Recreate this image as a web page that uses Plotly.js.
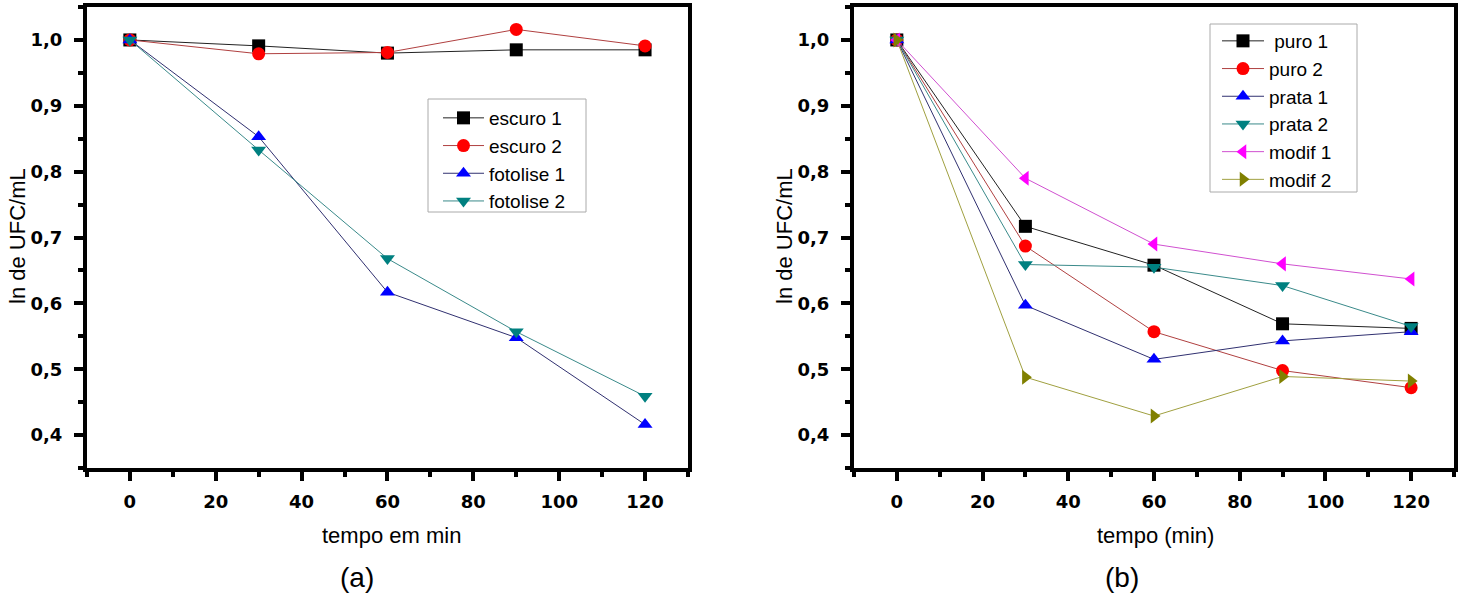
<!DOCTYPE html>
<html>
<head>
<meta charset="utf-8">
<script src="https://cdn.plot.ly/plotly-3.0.1.min.js"></script>
<style>html,body{margin:0;padding:0;background:#fff;}#chart{width:1461px;height:595px;}</style>
</head>
<body>
<div id="chart"></div>
<script>
// ---- data ----
const tempo = [0, 30, 60, 90, 120];

const escuro1   = [1.000, 0.991, 0.980, 0.985, 0.985];
const escuro2   = [1.000, 0.979, 0.981, 1.016, 0.991];
const fotolise1 = [1.000, 0.853, 0.617, 0.548, 0.416];
const fotolise2 = [1.000, 0.833, 0.668, 0.557, 0.459];

const puro1  = [1.000, 0.717, 0.658, 0.569, 0.562];
const puro2  = [1.000, 0.687, 0.557, 0.498, 0.472];
const prata1 = [1.000, 0.597, 0.515, 0.543, 0.557];
const prata2 = [1.000, 0.659, 0.655, 0.627, 0.565];
const modif1 = [1.000, 0.790, 0.690, 0.660, 0.637];
const modif2 = [1.000, 0.488, 0.429, 0.489, 0.482];

const namesA = ['escuro 1', 'escuro 2', 'fotolise 1', 'fotolise 2'];
const namesB = [' puro 1', 'puro 2', 'prata 1', 'prata 2', 'modif 1', 'modif 2'];
const yTitle = 'ln de UFC/mL';
const xTitleA = 'tempo em min';
const xTitleB = 'tempo (min)';
const panelA = '(a)';
const panelB = '(b)';

// ---- styles ----
const C = {black:'#000000', red:'#ff0000', blue:'#0000ff', teal:'#008080', magenta:'#ff00ff', olive:'#808000'};
const lineCol = {black:'#222222', red:'#b04040', blue:'#303070', teal:'#3a8a8a', magenta:'#d050d0', olive:'#a0a040'};

function tr(x, y, name, col, sym, xa, ya, leg){
  return {
    x: x, y: y, name: name, type: 'scatter', mode: 'lines+markers',
    xaxis: xa, yaxis: ya, legend: leg,
    line: {color: lineCol[col], width: 1},
    marker: {color: C[col], symbol: sym, size: 13, line: {width: 0}}
  };
}

const data = [
  tr(tempo, escuro1, namesA[0], 'black', 'square', 'x', 'y', 'legend'),
  tr(tempo, escuro2, namesA[1], 'red', 'circle', 'x', 'y', 'legend'),
  tr(tempo, fotolise1, namesA[2], 'blue', 'triangle-up', 'x', 'y', 'legend'),
  tr(tempo, fotolise2, namesA[3], 'teal', 'triangle-down', 'x', 'y', 'legend'),
  tr(tempo, puro1, namesB[0], 'black', 'square', 'x2', 'y2', 'legend2'),
  tr(tempo, puro2, namesB[1], 'red', 'circle', 'x2', 'y2', 'legend2'),
  tr(tempo, prata1, namesB[2], 'blue', 'triangle-up', 'x2', 'y2', 'legend2'),
  tr(tempo, prata2, namesB[3], 'teal', 'triangle-down', 'x2', 'y2', 'legend2'),
  tr(tempo, modif1, namesB[4], 'magenta', 'triangle-left', 'x2', 'y2', 'legend2'),
  tr(tempo, modif2, namesB[5], 'olive', 'triangle-right', 'x2', 'y2', 'legend2')
];

const tickFont = {family: 'DejaVu Sans, Liberation Sans, Arial, sans-serif', size: 18, color: '#000', weight: 'bold'};
const txtFam = 'Liberation Sans, Arial, sans-serif';

function xAx(dom, anchor){
  return {
    domain: dom, anchor: anchor, range: [-10, 130],
    tickmode: 'linear', tick0: 0, dtick: 20,
    ticks: 'outside', ticklen: 9, tickwidth: 4, tickcolor: '#000',
    minor: {dtick: 10, tick0: 0, ticks: 'outside', ticklen: 5, tickwidth: 4, tickcolor: '#000', showgrid: false},
    showline: true, linewidth: 4, linecolor: '#000', mirror: true,
    showgrid: false, zeroline: false, tickfont: tickFont, ticklabelstandoff: 5
  };
}
function yAx(dom, anchor){
  return {
    domain: dom, anchor: anchor, range: [0.35, 1.05],
    tickmode: 'linear', tick0: 0.4, dtick: 0.1, tickformat: '.1f',
    ticks: 'outside', ticklen: 9, tickwidth: 4, tickcolor: '#000',
    minor: {dtick: 0.05, tick0: 0.35, ticks: 'outside', ticklen: 5, tickwidth: 4, tickcolor: '#000', showgrid: false},
    showline: true, linewidth: 4, linecolor: '#000', mirror: true,
    showgrid: false, zeroline: false, tickfont: tickFont, ticklabelstandoff: 8
  };
}

const yDom = [0.2134, 0.9882];
const legFont = {family: txtFam, size: 19, color: '#000'};
const H = 595, W = 1461;

function ann(text, x, y, size, angle){
  return {text: text, xref: 'paper', yref: 'paper', x: x / W, y: 1 - y / H,
    xanchor: 'center', yanchor: 'middle', textangle: angle || 0,
    showarrow: false, font: {family: txtFam, size: size, color: '#000'}};
}

const layout = {
  width: W, height: H,
  margin: {l: 0, r: 0, t: 0, b: 0},
  paper_bgcolor: '#fff', plot_bgcolor: '#fff',
  separators: ',.',
  showlegend: true,
  xaxis: xAx([0.0595, 0.4709], 'y'),
  yaxis: yAx(yDom, 'x'),
  xaxis2: xAx([0.5845, 0.9952], 'y2'),
  yaxis2: yAx(yDom, 'x2'),
  legend: {
    x: 438/W, y: 1 - 99/H, xanchor: 'left', yanchor: 'top',
    bgcolor: 'rgba(0,0,0,0)', borderwidth: 0,
    font: legFont, tracegroupgap: 0, itemwidth: 41
  },
  legend2: {
    x: 1217/W, y: 1 - 22/H, xanchor: 'left', yanchor: 'top',
    bgcolor: 'rgba(0,0,0,0)', borderwidth: 0,
    font: legFont, tracegroupgap: 0, itemwidth: 42
  },
  shapes: [
    {type: 'rect', xref: 'paper', yref: 'paper', x0: 428/W, x1: 586/W, y0: 1 - 212/H, y1: 1 - 99/H,
     line: {color: '#aaaaaa', width: 1}, fillcolor: '#ffffff', layer: 'below'},
    {type: 'rect', xref: 'paper', yref: 'paper', x0: 1210/W, x1: 1357/W, y0: 1 - 192/H, y1: 1 - 24/H,
     line: {color: '#aaaaaa', width: 1}, fillcolor: '#ffffff', layer: 'below'}
  ],
  annotations: [
    ann(yTitle, 18, 236, 22, -90),
    ann(yTitle, 785, 236, 22, -90),
    ann(xTitleA, 391, 535, 22),
    ann(xTitleB, 1155, 535, 22),
    ann(panelA, 357, 577, 28),
    ann(panelB, 1122, 577, 28)
  ]
};

Plotly.newPlot('chart', data, layout, {displayModeBar: false, staticPlot: true});
</script>
</body>
</html>
